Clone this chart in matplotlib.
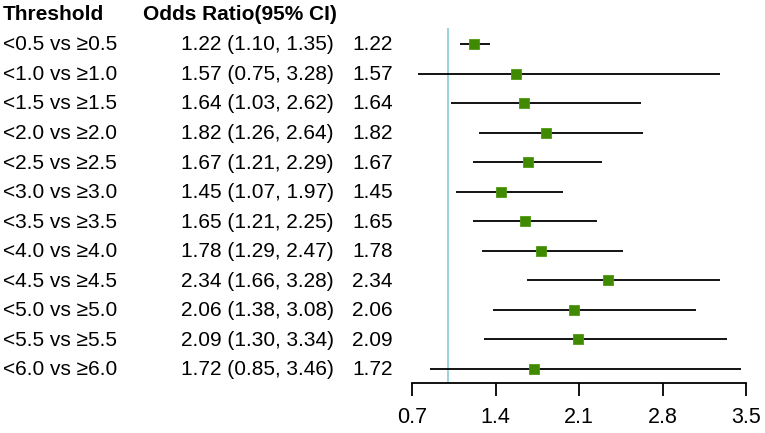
import matplotlib.pyplot as plt
import matplotlib.transforms as mtransforms

plt.rcParams['font.family'] = ['Liberation Sans', 'DejaVu Sans']

thresholds = ["<0.5 vs ≥0.5", "<1.0 vs ≥1.0", "<1.5 vs ≥1.5", "<2.0 vs ≥2.0",
              "<2.5 vs ≥2.5", "<3.0 vs ≥3.0", "<3.5 vs ≥3.5", "<4.0 vs ≥4.0",
              "<4.5 vs ≥4.5", "<5.0 vs ≥5.0", "<5.5 vs ≥5.5", "<6.0 vs ≥6.0"]
odds = [1.22, 1.57, 1.64, 1.82, 1.67, 1.45, 1.65, 1.78, 2.34, 2.06, 2.09, 1.72]
lower = [1.10, 0.75, 1.03, 1.26, 1.21, 1.07, 1.21, 1.29, 1.66, 1.38, 1.30, 0.85]
upper = [1.35, 3.28, 2.62, 2.64, 2.29, 1.97, 2.25, 2.47, 3.28, 3.08, 3.34, 3.46]
xticks = [0.7, 1.4, 2.1, 2.8, 3.5]

W, H = 765, 433
fig = plt.figure(figsize=(W / 100, H / 100), dpi=100)

# axes covers x 412..746 px, y 0..383 px from top
ax = fig.add_axes([412 / W, (H - 383) / H, (746 - 412) / W, 383 / H])
rows = list(range(len(thresholds)))
step = (369 - 44) / 11
ax.set_ylim((383 - 44) / step, -44 / step)
ax.set_xlim(0.7, 3.5)

ax.vlines(1.0, (28 - 44) / step, (383 - 44) / step, color="#8ccbd6", lw=1.2, zorder=1)
ax.hlines(rows, lower, upper, color="black", lw=1.3, zorder=2)
ax.scatter(odds, rows, marker="s", s=52, color="#3f8a00", edgecolors="#4f9a10",
           linewidths=0.6, zorder=3)

for s in ["top", "right", "left"]:
    ax.spines[s].set_visible(False)
ax.spines["bottom"].set_bounds(0.7, 3.5)
ax.spines["bottom"].set_linewidth(1.3)
ax.set_yticks([])
ax.set_xticks(xticks)
ax.set_xticklabels([f"{t:.1f}" for t in xticks])
ax.tick_params(axis="x", direction="out", length=9, width=1.3, pad=8, labelsize=15.5)

trans = mtransforms.blended_transform_factory(fig.transFigure, ax.transData)
fs = 15
hy = (15 - 44) / step
fig.text(3 / W, hy, "Threshold", transform=trans, fontsize=fs, fontweight="bold",
         va="center", ha="left")
fig.text(143 / W, hy, "Odds Ratio(95% CI)", transform=trans, fontsize=fs,
         fontweight="bold", va="center", ha="left")
for i in rows:
    fig.text(3 / W, i + 0.03, thresholds[i], transform=trans, fontsize=fs,
             va="center", ha="left")
    fig.text(181 / W, i + 0.03, f"{odds[i]:.2f} ({lower[i]:.2f}, {upper[i]:.2f})",
             transform=trans, fontsize=fs, va="center", ha="left")
    fig.text(352 / W, i + 0.03, f"{odds[i]:.2f}", transform=trans, fontsize=fs,
             va="center", ha="left")

fig.savefig("out.png", dpi=100)
